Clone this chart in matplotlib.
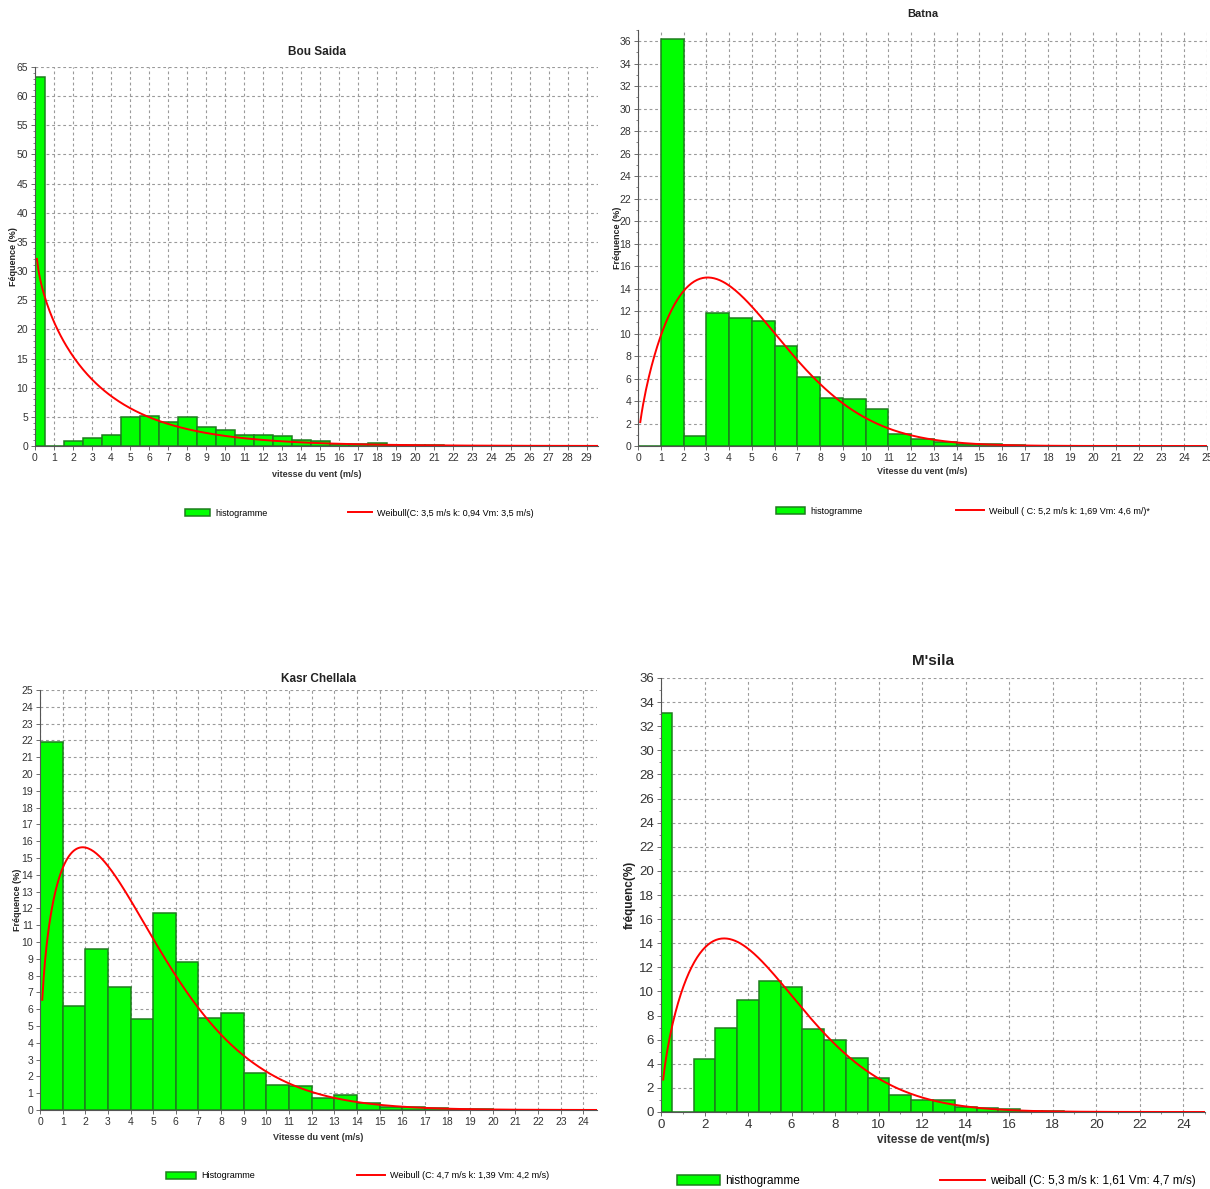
import numpy as np
import matplotlib
matplotlib.use("Agg")
import matplotlib.pyplot as plt
from matplotlib.ticker import MultipleLocator
from matplotlib.patches import Patch
from matplotlib.lines import Line2D

# Bou Saida: classes centred on integer speeds (m/s)
bou_saida_speed = [0, 1, 2, 3, 4, 5, 6, 7, 8, 9, 10, 11, 12, 13, 14, 15,
                   16, 17, 18, 19, 20, 21]
bou_saida_freq = [63.3, 0.0, 0.8, 1.3, 1.9, 4.9, 5.1, 4.1, 4.9, 3.3, 2.8, 1.9,
                  1.9, 1.7, 1.0, 0.8, 0.4, 0.35, 0.5, 0.25, 0.25, 0.25]
bou_saida_weibull = (3.5, 0.94)   # C (m/s), k

# Batna: classes [v, v+1)
batna_speed = [0, 1, 2, 3, 4, 5, 6, 7, 8, 9, 10, 11, 12, 13, 14, 15, 16]
batna_freq = [0.0, 36.2, 0.9, 11.8, 11.4, 11.1, 8.9, 6.1, 4.3, 4.2, 3.3, 1.1,
              0.6, 0.4, 0.2, 0.15, 0.1]
batna_weibull = (5.2, 1.69)

# Kasr Chellala: classes [v, v+1)
kasr_speed = [0, 1, 2, 3, 4, 5, 6, 7, 8, 9, 10, 11, 12, 13, 14, 15, 16, 17,
              18, 19]
kasr_freq = [21.9, 6.2, 9.6, 7.3, 5.4, 11.7, 8.8, 5.5, 5.8, 2.2, 1.5, 1.4,
             0.7, 0.9, 0.4, 0.2, 0.15, 0.1, 0.05, 0.05]
kasr_weibull = (4.7, 1.39)

# M'sila: classes centred on integer speeds
msila_speed = [0, 1, 2, 3, 4, 5, 6, 7, 8, 9, 10, 11, 12, 13, 14, 15, 16, 17, 18]
msila_freq = [33.1, 0.0, 4.4, 7.0, 9.3, 10.9, 10.4, 6.9, 6.0, 4.5, 2.8, 1.4,
              1.0, 1.0, 0.4, 0.3, 0.25, 0.1, 0.1]
msila_weibull = (5.3, 1.61)

W, H = 1210, 1189
GREEN = "#00ff00"
EDGE = "#1e7d1e"
FONT = ["Liberation Sans", "DejaVu Sans"]


def box(left, top, right, bottom):
    return [left / W, 1 - bottom / H, (right - left) / W, (bottom - top) / H]


def weibull_pdf(v, c, k):
    return 100 * (k / c) * (v / c) ** (k - 1) * np.exp(-(v / c) ** k)


def draw_panel(fig, rect, speed, freq, weib, align, xlim, ylim, xstep, ystep,
               title, xlabel, ylabel, hist_name, weib_name, legend_y,
               legend_x, tick_size, label_size, title_size, legend_size,
               title_y, xlabel_y, ylabel_x, yminor=None, xminor=None,
               handle_w=(25, 24)):
    ax = fig.add_axes(box(*rect))
    ax.set_axisbelow(True)
    ax.bar(speed, freq, width=1.0, align=align, color=GREEN, edgecolor=EDGE,
           linewidth=1.1, zorder=2)
    v = np.linspace(0.1, xlim[1], 400)
    ax.plot(v, weibull_pdf(v, *weib), color="red", lw=1.4, zorder=3)

    ax.set_xlim(*xlim)
    ax.set_ylim(*ylim)
    ax.xaxis.set_major_locator(MultipleLocator(xstep))
    ax.yaxis.set_major_locator(MultipleLocator(ystep))
    if yminor:
        ax.yaxis.set_minor_locator(MultipleLocator(yminor))
    if xminor:
        ax.xaxis.set_minor_locator(MultipleLocator(xminor))
    ax.grid(True, which="major", color="#9a9a9a", lw=0.8,
            linestyle=(0, (2.5, 2.5)))
    for side in ("top", "right"):
        ax.spines[side].set_visible(False)
    for side in ("left", "bottom"):
        ax.spines[side].set_color("#555555")
        ax.spines[side].set_linewidth(0.8)
    ax.tick_params(which="major", length=3, width=0.6, color="#555555",
                   labelsize=tick_size, pad=2, labelcolor="#333333")
    ax.tick_params(which="minor", length=1.5, width=0.5, color="#555555")
    for lab in ax.get_xticklabels() + ax.get_yticklabels():
        lab.set_family(FONT)

    left, top, right, bottom = rect
    hpx = bottom - top
    wpx = right - left
    ax.set_title(title, y=1 + (top - title_y) / hpx, va="center", pad=0,
                 fontsize=title_size, fontweight="bold", family=FONT,
                 color="#222222")
    ax.set_xlabel(xlabel, fontsize=label_size, fontweight="bold",
                  family=FONT, color="#333333")
    ax.xaxis.set_label_coords(0.5, -(xlabel_y - bottom) / hpx)
    ax.xaxis.label.set_va("center")
    ax.set_ylabel(ylabel, fontsize=label_size, fontweight="bold",
                  family=FONT, color="#222222")
    ax.yaxis.set_label_coords(-(left - ylabel_x) / wpx, 0.5)
    ax.yaxis.label.set_va("center")

    # legend entries sit under the chart, each placed on its own
    hist_handle = Patch(facecolor=GREEN, edgecolor=EDGE, linewidth=1.1)
    weib_handle = Line2D([], [], color="red", lw=1.4)
    em = legend_size * 100 / 72
    entries = ((hist_handle, hist_name, legend_x[0], handle_w[0]),
               (weib_handle, weib_name, legend_x[1], handle_w[1]))
    for handle, name, x0, hw in entries:
        fig.legend(handles=[handle], labels=[name], loc="center left",
                   bbox_to_anchor=(x0 / W, 1 - legend_y / H), frameon=False,
                   borderpad=0, borderaxespad=0, handlelength=hw / em,
                   handleheight=0.9, handletextpad=5 / em,
                   prop={"family": FONT, "size": legend_size})
    return ax


fig = plt.figure(figsize=(W / 100, H / 100), dpi=100)

draw_panel(fig, (35, 67, 598, 446), bou_saida_speed, bou_saida_freq,
           bou_saida_weibull, "center", (0, 29.6), (0, 65), 1, 5,
           "Bou Saida", "vitesse du vent (m/s)", "Féquence (%)",
           "histogramme", "Weibull(C: 3,5 m/s k: 0,94 Vm: 3,5 m/s)",
           513, (185, 348), 7.5, 6.5, 8.5, 6.5, 52, 475, 14, yminor=1)

draw_panel(fig, (638, 30, 1207, 446), batna_speed, batna_freq,
           batna_weibull, "edge", (0, 25), (0, 37), 1, 2,
           "Batna", "Vitesse du vent (m/s)", "Fréquence (%)",
           "histogramme", "Weibull ( C: 5,2 m/s k: 1,69 Vm: 4,6 m/)*",
           511, (776, 956), 7.5, 6.5, 8, 6.5, 14, 472, 617,
           yminor=1, handle_w=(29, 28))

draw_panel(fig, (40, 690, 597, 1110), kasr_speed, kasr_freq,
           kasr_weibull, "edge", (0, 24.6), (0, 25), 1, 1,
           "Kasr Chellala", "Vitesse du vent (m/s)", "Fréquence (%)",
           "Histogramme", "Weibull (C: 4,7 m/s k: 1,39 Vm: 4,2 m/s)",
           1176, (166, 357), 7.5, 6.5, 8.5, 6.5, 679, 1137, 18,
           handle_w=(30, 28))

draw_panel(fig, (661, 678, 1205, 1112), msila_speed, msila_freq,
           msila_weibull, "center", (0, 25), (0, 36), 2, 2,
           "M'sila", "vitesse de vent(m/s)", "fréquenc(%)",
           "histhogramme", "weiball (C: 5,3 m/s k: 1,61 Vm: 4,7 m/s)",
           1181, (677, 940), 9.5, 8.5, 11, 8.5, 661, 1140, 630,
           yminor=1, xminor=1, handle_w=(43, 45))

fig.savefig("out.png", dpi=100)
